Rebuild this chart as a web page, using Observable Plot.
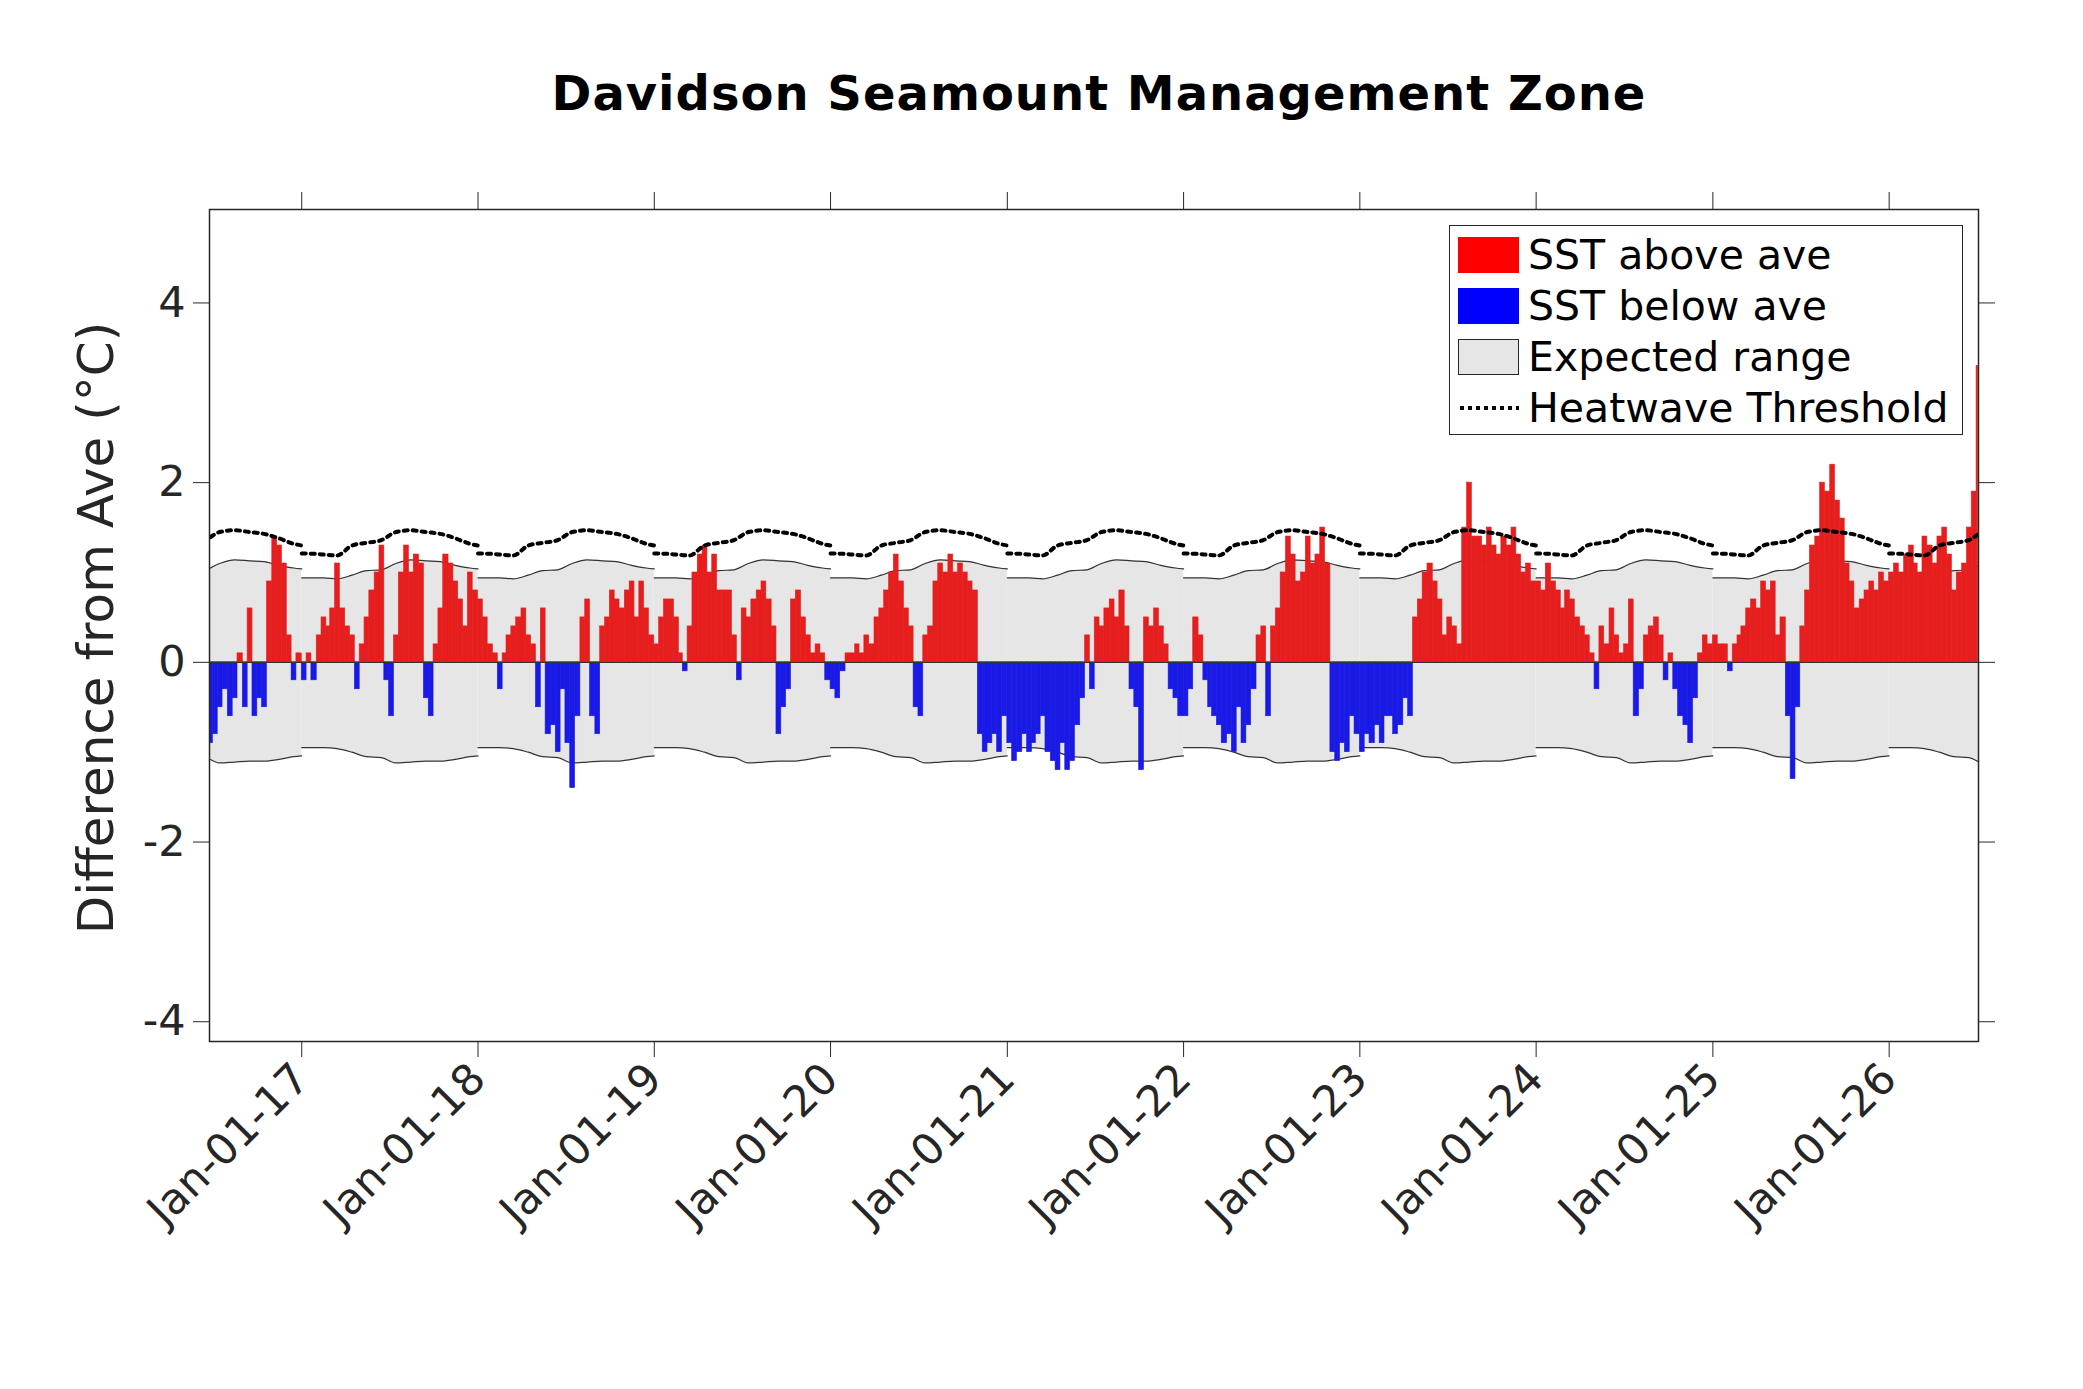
<!DOCTYPE html>
<html><head><meta charset="utf-8">
<script src="https://cdn.jsdelivr.net/npm/d3@7"></script>
<script src="https://cdn.jsdelivr.net/npm/@observablehq/plot@0.6"></script>
<style>
body{margin:0;background:#fff;font-family:"DejaVu Sans",sans-serif;}
#wrap{position:relative;width:2083px;height:1389px;}
#title{position:absolute;left:0;width:2198px;top:65px;text-align:center;font-weight:bold;font-size:48px;color:#000;letter-spacing:1px}
#ylab{position:absolute;left:96px;top:628px;transform:translate(-50%,-50%) rotate(-90deg);font-size:50px;color:#262626;white-space:nowrap}
#legend{position:absolute;left:1457px;top:225px;width:512px;height:208px;border:1.5px solid #262626;background:#fff;font-size:41px;color:#000}
.row{position:absolute;left:8px;height:40px;display:flex;align-items:center}
.sw{width:61px;height:36px;margin-right:9px;box-sizing:border-box}
</style></head>
<body><div id="wrap">
<div id="title">Davidson Seamount Management Zone</div>
<div id="ylab">Difference from Ave (°C)</div>
<div id="legend">
 <div class="row" style="top:9px"><div class="sw" style="background:#ff0000"></div>SST above ave</div>
 <div class="row" style="top:60px"><div class="sw" style="background:#0000ff"></div>SST below ave</div>
 <div class="row" style="top:111px"><div class="sw" style="background:#e6e6e6;border:1.5px solid #262626"></div>Expected range</div>
 <div class="row" style="top:162px"><div class="sw" style="display:flex;align-items:center"><svg width="61" height="8"><line x1="2" y1="4" x2="61" y2="4" stroke="#000" stroke-width="4" stroke-dasharray="4 4"/></svg></div>Heatwave Threshold</div>
</div>
</div>
<script>
// Dekad anomalies (°C): 2016 starts at Jun 21; other years start Jan 1; 2026 ends in early July
const anom2016 = [-0.9, -0.8,-0.5,-0.3, -0.6,-0.4,0.1, -0.5,0.6,-0.6, -0.4,-0.5,0.9, 1.4,1.3,1.1, 0.3,-0.2,0.1];
const anom2017 = [-0.2,0.1,-0.2, 0.3,0.5,0.4, 0.6,1.1,0.6, 0.4,0.3,-0.3, 0.2,0.5,0.8, 1.0,1.3,-0.2, -0.6,0.3,1.0, 1.3,1.0,1.2, 1.1,-0.4,-0.6, 0.2,0.6,1.2, 1.1,0.9,0.7, 0.4,1.0,0.8];
const anom2018 = [0.7,0.5,0.2, 0.1,-0.3,0.1, 0.3,0.4,0.5, 0.6,0.3,0.2, -0.5,0.6,-0.8, -0.7,-1.0,-0.3, -0.9,-1.4,-0.6, 0.5,0.7,-0.6, -0.8,0.4,0.5, 0.8,0.7,0.6, 0.8,0.9,0.5, 0.9,0.6,0.3];
const anom2019 = [0.2,0.5,0.7, 0.7,0.5,0.1, -0.1,0.4,1.0, 1.2,1.3,1.0, 1.2,0.8,0.8, 0.8,0.3,-0.2, 0.6,0.5,0.7, 0.8,0.9,0.7, 0.4,-0.8,-0.5, -0.3,0.7,0.8, 0.5,0.3,0.1, 0.2,0.1,-0.2];
const anom2020 = [-0.3,-0.4,-0.1, 0.1,0.1,0.2, 0.1,0.3,0.2, 0.5,0.6,0.8, 1.0,1.2,0.9, 0.6,0.4,-0.5, -0.6,0.3,0.4, 0.9,1.1,1.0, 1.2,1.0,1.1, 1.0,0.9,0.8, -0.8,-1.0,-0.9, -0.8,-1.0,-0.6];
const anom2021 = [-0.9,-1.1,-1.0, -0.8,-1.0,-0.9, -0.8,-0.6,-1.0, -1.1,-1.2,-0.9, -1.2,-1.1,-0.7, -0.4,0.3,-0.3, 0.5,0.4,0.6, 0.7,0.5,0.8, 0.4,-0.3,-0.5, -1.2,0.5,0.4, 0.6,0.4,0.2, -0.3,-0.4,-0.6];
const anom2022 = [-0.6,-0.3,0.5, 0.3,-0.2,-0.5, -0.6,-0.7,-0.9, -0.8,-1.0,-0.5, -0.9,-0.7,-0.3, 0.3,0.4,-0.6, 0.4,0.6,1.0, 1.4,1.2,0.9, 1.0,1.4,1.1, 1.2,1.5,1.1, -1.0,-1.1,-0.9, -1.0,-0.6,-0.8];
const anom2023 = [-1.0,-0.8,-0.9, -0.7,-0.9,-0.6, -0.6,-0.8,-0.7, -0.4,-0.6,0.5, 0.7,1.0,1.1, 0.9,0.7,0.3, 0.5,0.4,0.2, 1.5,2.0,1.4, 1.4,1.3,1.5, 1.3,1.2,1.4, 1.3,1.5,1.2, 1.0,1.1,0.9];
const anom2024 = [0.9,0.8,1.1, 0.9,0.8,0.6, 0.8,0.7,0.5, 0.4,0.3,0.1, -0.3,0.4,0.2, 0.6,0.3,0.1, 0.2,0.7,-0.6, -0.3,0.3,0.4, 0.5,0.3,-0.2, 0.1,-0.3,-0.6, -0.7,-0.9,-0.4, 0.1,0.3,0.2];
const anom2025 = [0.3,0.2,0.2, -0.1,0.2,0.3, 0.4,0.6,0.7, 0.6,0.9,0.8, 0.9,0.3,0.5, -0.6,-1.3,-0.5, 0.4,0.8,1.3, 1.4,2.0,1.9, 2.2,1.8,1.6, 1.1,0.9,0.6, 0.7,0.8,0.9, 0.8,1.0,0.9];
const anom2026 = [1.0,1.1,1.0, 1.2,1.3,1.1, 1.0,1.4,1.3, 1.1,1.4,1.5, 1.2,0.8,1.0, 1.1,1.5,1.9, 3.3];

// Monthly climatology (mid-month values), plus Jan 1 / Dec 31 ends
const climUpper  = [0.94,0.94,0.93,0.97,1.02,1.03,1.10,1.14,1.13,1.12,1.08,1.05];
const climLower  = [-0.95,-0.95,-0.96,-1.00,-1.05,-1.06,-1.12,-1.11,-1.10,-1.10,-1.08,-1.05];
const climThresh = [1.21,1.20,1.19,1.30,1.33,1.36,1.45,1.47,1.45,1.43,1.38,1.32];
const endUpper = [0.94, 1.04], endLower = [-0.95, -1.04], endThresh = [1.21, 1.30];

const years = [2016,2017,2018,2019,2020,2021,2022,2023,2024,2025,2026];
const tickYears = [2017,2018,2019,2020,2021,2022,2023,2024,2025,2026];
const xDomain = [new Date(2016,5,24), new Date(2026,6,5)];

const series = {2016:anom2016,2017:anom2017,2018:anom2018,2019:anom2019,2020:anom2020,2021:anom2021,2022:anom2022,2023:anom2023,2024:anom2024,2025:anom2025,2026:anom2026};
const dd = [1,11,21];
function dek(y,k){const m=Math.floor(k/3); return new Date(y,m,dd[k%3]);}
const bars = [];
for (const y of years){
  const v = series[y]; const off = y===2016 ? 17 : 0;
  v.forEach((val,i)=>{const k=i+off; bars.push({x1:dek(y,k), x2: k===35? new Date(y+1,0,1): (y===2026&&i===v.length-1? new Date(2026,6,4): dek(y,k+1)), v:val});});
}
const clim = [];
for (const y of years){
  clim.push({yr:y,x:new Date(y,0,1),lo:endLower[0],hi:endUpper[0],th:endThresh[0]});
  for(let m=0;m<12;m++) clim.push({yr:y,x:new Date(y,m,15),lo:climLower[m],hi:climUpper[m],th:climThresh[m]});
  clim.push({yr:y,x:new Date(y,11,31,23),lo:endLower[1],hi:endUpper[1],th:endThresh[1]});
}
const fmt = d3.utcFormat("%b-%d-%y");
const ticks = tickYears.map(y=>new Date(y,0,1));
const tc = "#262626";
const chart = Plot.plot({
  width:2083, height:1389, marginLeft:209, marginRight:105, marginTop:209, marginBottom:348,
  style:{fontFamily:"DejaVu Sans", fontSize:"43px", color:tc, background:"#fff"},
  x:{type:"time", domain:xDomain},
  y:{domain:[-4.22,5.04]},
  marks:[
    Plot.areaY(clim,{x:"x",y1:"lo",y2:"hi",z:"yr",fill:"#e6e6e6",curve:"monotone-x",clip:true}),
    Plot.line(clim,{x:"x",y:"hi",z:"yr",stroke:"#333",strokeWidth:1.2,curve:"monotone-x",clip:true}),
    Plot.line(clim,{x:"x",y:"lo",z:"yr",stroke:"#333",strokeWidth:1.2,curve:"monotone-x",clip:true}),
    Plot.rectY(bars,{x1:"x1",x2:"x2",y:"v",fill:d=>d.v>=0?"#e61e1e":"#1a1ae6",stroke:d=>d.v>=0?"#e61e1e":"#1a1ae6",strokeWidth:0.6,clip:true}),
    Plot.ruleY([0],{stroke:"#333",strokeWidth:1.2}),
    Plot.line(clim,{x:"x",y:"th",z:"yr",stroke:"#000",strokeWidth:4,strokeDasharray:"4 5",curve:"monotone-x",clip:true}),
    Plot.frame({stroke:tc,strokeWidth:1.5}),
    Plot.axisY({ticks:[-4,-2,0,2,4],tickSize:16,tickPadding:8,tickFormat:d=>String(d).replace("−","-"),label:null,fill:tc,stroke:tc}),
    Plot.axisY({anchor:"right",ticks:[-4,-2,0,2,4],tickSize:16,tickFormat:()=>"",label:null,stroke:tc}),
    Plot.axisX({anchor:"top",ticks,tickSize:18,tickFormat:()=>"",label:null,stroke:tc}),
    Plot.axisX({anchor:"bottom",ticks,tickSize:16,tickFormat:d=>fmt(new Date(Date.UTC(d.getFullYear(),0,1))),tickRotate:-45,tickPadding:14,label:null,fill:tc,stroke:tc})
  ]
});
document.getElementById("wrap").prepend(chart);
chart.style.position="absolute";chart.style.left="0";chart.style.top="0";
const lg=document.getElementById("legend"); lg.style.left="1449px";
</script>
</body></html>
